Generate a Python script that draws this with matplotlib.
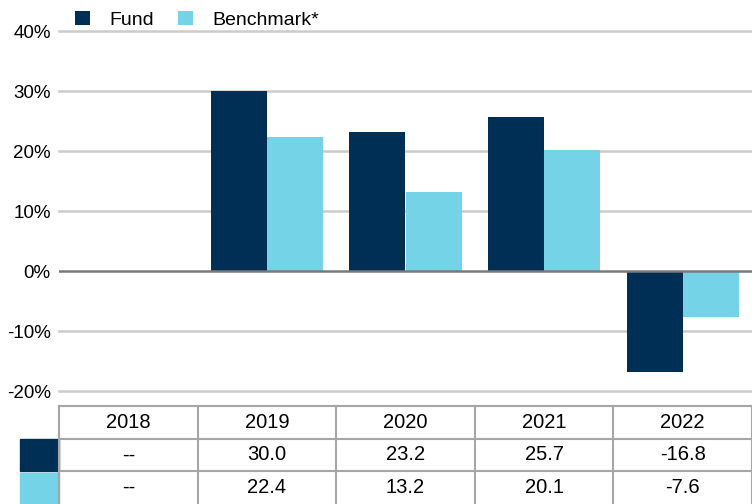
import matplotlib
matplotlib.use("Agg")
import matplotlib.pyplot as plt
from matplotlib.patches import Rectangle
import numpy as np

years = ["2018", "2019", "2020", "2021", "2022"]
fund = [None, 30.0, 23.2, 25.7, -16.8]
bench = [None, 22.4, 13.2, 20.1, -7.6]
yticks = [-20, -10, 0, 10, 20, 30, 40]
series_names = ["Fund", "Benchmark*"]

NAVY = "#002F56"
LIGHT = "#74D3E6"
GRID = "#cccccc"
TBL = "#a6a6a6"

plt.rcParams['font.family'] = ['Liberation Sans', 'DejaVu Sans']
narrow = ['Liberation Sans Narrow', 'Liberation Sans', 'DejaVu Sans']

W, H = 752, 504
fig = plt.figure(figsize=(W / 100, H / 100), dpi=100)

ax = fig.add_axes([59 / W, (H - 391) / H, (W - 59) / W, (391 - 31) / H])
x = np.arange(len(years))
bw = 0.405
fv = [np.nan if v is None else v for v in fund]
bv = [np.nan if v is None else v for v in bench]
h1 = ax.bar(x - bw / 2, fv, bw, color=NAVY, zorder=3, label=series_names[0])
h2 = ax.bar(x + bw / 2, bv, bw, color=LIGHT, zorder=3, label=series_names[1])
ax.set_xlim(-0.5, len(years) - 0.5)
ax.set_ylim(-20, 40)
ax.set_yticks(yticks)
ax.set_yticklabels([f"{t}%" for t in yticks], fontsize=13.5)
ax.tick_params(axis='y', length=0, pad=6)
ax.set_xticks([])
for s in ax.spines.values():
    s.set_visible(False)
for t in yticks:
    if t == 0:
        ax.axhline(t, color="#7a7a7a", lw=1.8, zorder=4)
    else:
        ax.axhline(t, color=GRID, lw=1.8, zorder=1, clip_on=False)

fig.legend(handles=[h1, h2], loc="upper left", bbox_to_anchor=(63 / W, 1.0 + 1 / H),
           ncol=2, frameon=False, fontsize=14, handlelength=0.78, handleheight=0.78,
           handletextpad=1.0, columnspacing=1.25, borderaxespad=0.2)

# table
top = 406
tax = fig.add_axes([59 / W, 0, (W - 59) / W, (H - top) / H])
tax.set_xlim(-0.5, len(years) - 0.5)
tax.set_ylim(0, 3)
tax.axis('off')
for i in range(len(years) + 1):
    tax.plot([i - 0.5, i - 0.5], [0, 3], color=TBL, lw=1.5, clip_on=False)
for yy in [1, 2, 3]:
    tax.plot([-0.5, len(years) - 0.5], [yy, yy], color=TBL, lw=1.5, clip_on=False)
sw = 39 / 138.6
tax.add_patch(Rectangle((-0.5 - sw, 1.02), sw, 0.96, color=NAVY, clip_on=False))
tax.add_patch(Rectangle((-0.5 - sw, 0.0), sw, 0.96, color=LIGHT, clip_on=False))
for i, yr in enumerate(years):
    tax.text(i, 2.5, yr, ha='center', va='center', fontsize=14.5, family=narrow)
    for row, vals in ((1.5, fund), (0.5, bench)):
        v = vals[i]
        s = "--" if v is None else f"{v:.1f}"
        tax.text(i, row, s, ha='center', va='center', fontsize=14.5, family=narrow)

fig.savefig("out.png", dpi=100)
